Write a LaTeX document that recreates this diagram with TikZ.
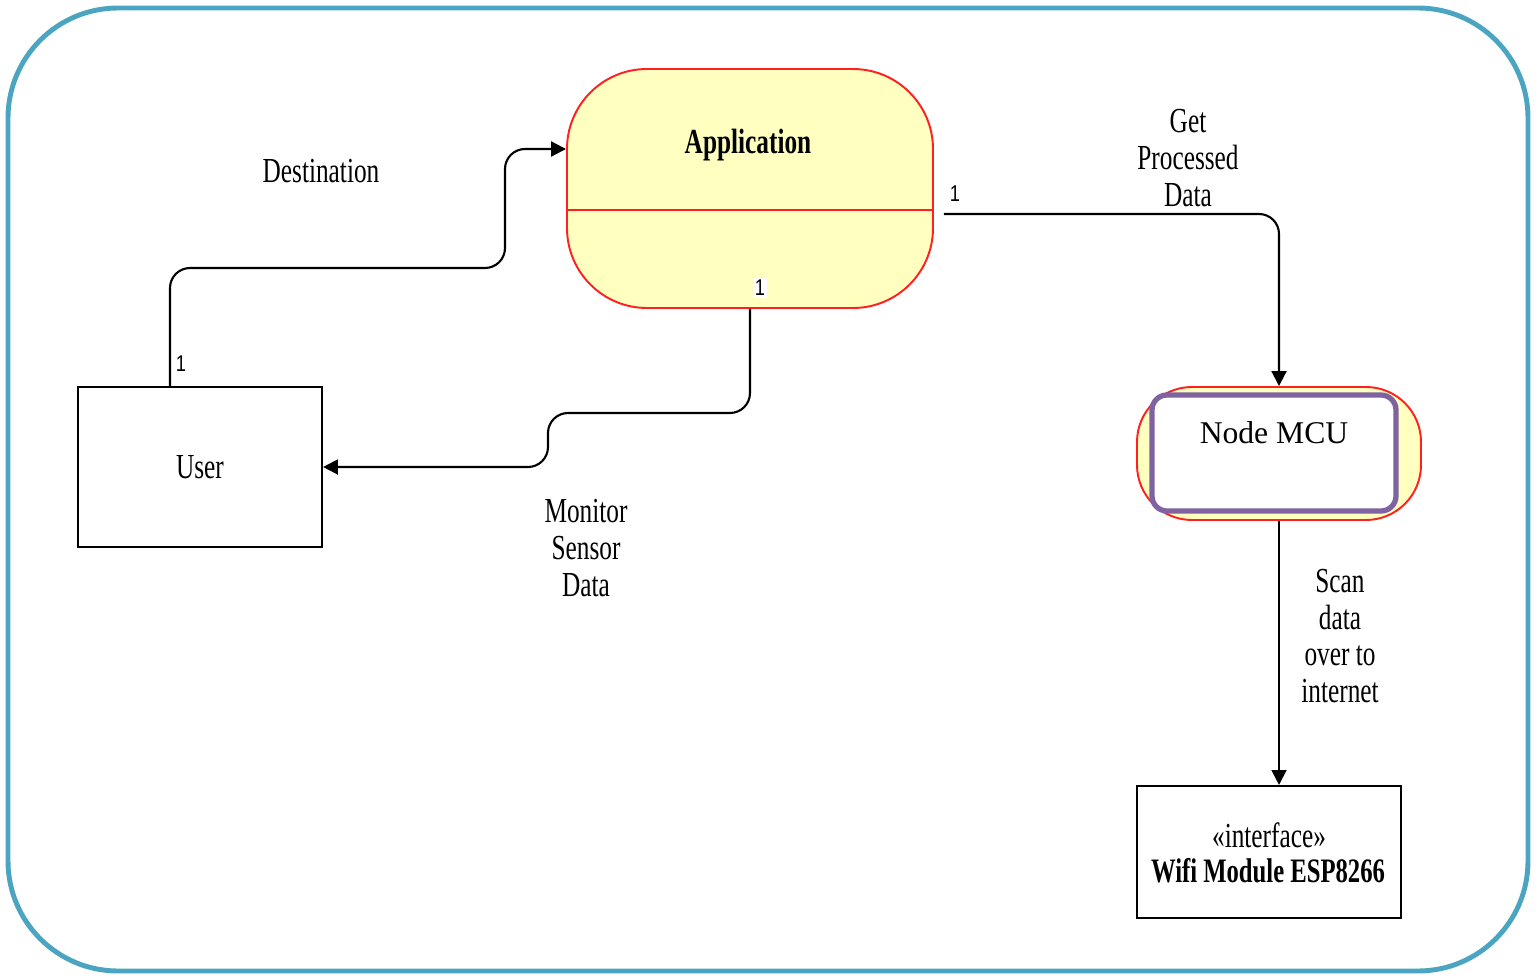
\documentclass[tikz,border=0pt]{standalone}
\usepackage{fontspec}
\usepackage{tikz}
\usetikzlibrary{arrows.meta}
\setmainfont{Liberation Serif}
\newfontfamily\strettofont[FakeStretch=0.72]{Liberation Serif}
\newfontfamily\numfont[FakeStretch=0.8]{Liberation Sans}

\begin{document}
\begin{tikzpicture}[x=0.2mm, y=-0.2mm,
  etichetta/.style={font=\strettofont\fontsize{20}{21}\selectfont, align=center, inner sep=0pt},
  molt/.style={font=\numfont\fontsize{13}{14}\selectfont, inner sep=1pt},
  freccia/.style={draw=black, line width=1.2pt, rounded corners=4mm, -{Triangle[length=8.5pt,width=8.5pt]}}]

% Colori
\definecolor{colCornice}{HTML}{4BA5C1}
\definecolor{colGiallo}{HTML}{FFFFC0}
\definecolor{colBordo}{HTML}{FF2020}
\definecolor{colViola}{HTML}{7E62A1}

\useasboundingbox (0,0) rectangle (1536,977);

% Cornice esterna
\draw[colCornice, line width=2.8pt, rounded corners=2.2cm] (8,8) rectangle (1528,971);

% Application
\node[draw=colBordo, fill=colGiallo, line width=1.1pt, rounded corners=1.6cm,
  minimum width=7.32cm, minimum height=4.78cm, inner sep=0pt] (app) at (750,188.5) {};
\coordinate (divisore) at (750,210);
\draw[colBordo, line width=1.1pt] (app.west |- divisore) -- (app.east |- divisore);
\node[font=\strettofont\bfseries\fontsize{20}{21}\selectfont, inner sep=0pt] (apptitolo) at (748,145) {Application};

% User
\node[draw, line width=1.2pt, minimum width=4.88cm, minimum height=3.2cm, etichetta] (user) at (200,467) {User};

% Node MCU
\node[draw=colBordo, fill=colGiallo, line width=1.1pt, rounded corners=1.1cm,
  minimum width=5.68cm, minimum height=2.66cm] (mcu) at (1279,453.5) {};
\node[draw=colViola, fill=white, line width=3pt, rounded corners=3mm,
  minimum width=4.88cm, minimum height=2.32cm] (mcuint) at (1274,453) {};
\node[font=\fontsize{18}{20}\selectfont, inner sep=0pt] (mcutesto) at (1274,433) {Node MCU};

% Wifi
\node[draw, line width=1.2pt, minimum width=5.28cm, minimum height=2.64cm] (wifi) at (1269,852) {};
\node[etichetta] (wifistereo) at (1269,835) {«interface»};
\node[etichetta, font=\strettofont\bfseries\fontsize{19.5}{21}\selectfont] (wifinome) at (1268,871) {Wifi Module ESP8266};

% Connettori
\draw[freccia] ([xshift=-6mm]user.north) -- (170,268) -- (505,268) -- (505,149) -- ([yshift=7.9mm]app.west);
\draw[freccia] (app.south) -- (750,413) -- (548,413) -- (548,467) -- (user.east);
\draw[freccia] ([shift={(2mm,-5.1mm)}]app.east) -| (mcu.north);
\draw[freccia] (mcu.south) -- (mcu.south |- wifi.north);

% Molteplicita
\node[molt] (m1) at (181,364) {1};
\node[molt, fill=white] (m2) at (760,288) {1};
\node[molt] (m3) at (955,194) {1};

% Etichette dei flussi
\node[etichetta] (destinazione) at (321,171) {Destination};
\node[etichetta] (processati) at (1188,158) {Get\\Processed\\Data};
\node[etichetta] (monitor) at (586,548) {Monitor\\Sensor\\Data};
\node[etichetta] (scansione) at (1340,636) {Scan\\data\\over to\\internet};

\end{tikzpicture}
\end{document}
